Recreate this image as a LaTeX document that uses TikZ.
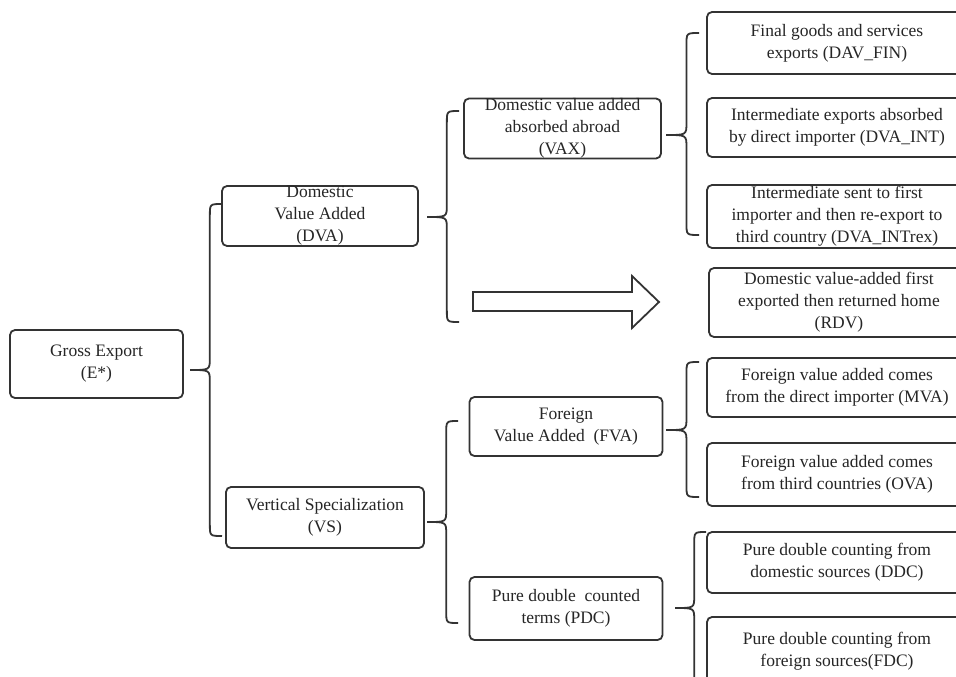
\documentclass[tikz,border=0pt]{standalone}
\usepackage{fontspec}
\setmainfont{Liberation Serif}
\usetikzlibrary{calc}

% graffa: punta, estremo alto, estremo basso
\newcommand{\parentesi}[3]{%
  \draw[graffa] let \p1=(#1), \p2=(#2), \p3=(#3), \p4=($(#1)!0.62!(#2)$) in
    (\p2) .. controls (\x4,\y2) .. (\x4,\y2-12pt)
    -- (\x4,\y1+12pt) .. controls (\x4,\y1) .. (\p1)
    .. controls (\x4,\y1) .. (\x4,\y1-12pt)
    -- (\x4,\y3+12pt) .. controls (\x4,\y3) .. (\p3);}

\begin{document}
\begin{tikzpicture}[x=1pt, y=-1pt]

% Stili dei blocchi
\tikzstyle{block} = [rectangle, draw=black!80, line width=1.8pt, rounded corners=5pt,
    align=center, inner sep=0pt, text=black!85, font=\fontsize{17.5}{22}\selectfont]
\tikzstyle{leaf} = [block, minimum width=260pt]
\tikzstyle{graffa} = [draw=black!80, line width=1.8pt]

\clip (0,0) rectangle (956,677);
\fill[white] (0,0) rectangle (956,677);

% Nodi
\node (gross) [block, minimum width=173pt, minimum height=68pt] at (96.5,364) {Gross Export\\(E*)};
\node (dva) [block, minimum width=196pt, minimum height=60pt] at (320,216) {Domestic\\Value Added\\(DVA)};
\node (vs) [block, minimum width=198pt, minimum height=61pt] at (325,517.5) {Vertical Specialization\\(VS)};
\node (vax) [block, minimum width=197pt, minimum height=60pt] at (562.5,128.5) {Domestic value added\\absorbed abroad\\(VAX)};
\node (fva) [block, minimum width=193pt, minimum height=59pt] at (566,426.5) {Foreign\\Value Added\ \ (FVA)};
\node (pdc) [block, minimum width=193pt, minimum height=63pt] at (566,608.5) {Pure double\ \ counted\\terms (PDC)};

\node (fin) [leaf, minimum height=62pt] at (837,43) {Final goods and services\\exports (DAV\_FIN)};
\node (int) [leaf, minimum height=59pt] at (837,127.5) {Intermediate exports absorbed\\by direct importer (DVA\_INT)};
\node (rex) [leaf, minimum height=63pt] at (837,216.5) {Intermediate sent to first\\importer and then re-export to\\third country (DVA\_INTrex)};
\node (rdv) [leaf, minimum height=69pt] at (839,302.5) {Domestic value-added first\\exported then returned home\\(RDV)};
\node (mva) [leaf, minimum height=59pt] at (837,387.5) {Foreign value added comes\\from the direct importer (MVA)};
\node (ova) [leaf, minimum height=63pt] at (837,474.5) {Foreign value added comes\\from third countries (OVA)};
\node (ddc) [leaf, minimum height=61pt] at (837,562.5) {Pure double counting from\\domestic sources (DDC)};
\node (fdc) [leaf, minimum height=68pt] at (837,651) {Pure double counting from\\foreign sources(FDC)};

% Punti delle graffe
\coordinate (g-tip) at (190,370);  \coordinate (g-top) at (222,204);  \coordinate (g-bot) at (222,536);
\coordinate (d-tip) at (427,217);  \coordinate (d-top) at (459,111);  \coordinate (d-bot) at (459,322);
\coordinate (x-tip) at (666,135);  \coordinate (x-top) at (699,33);   \coordinate (x-bot) at (699,235);
\coordinate (v-tip) at (427,522);  \coordinate (v-top) at (458,421);  \coordinate (v-bot) at (458,623);
\coordinate (f-tip) at (666,430);  \coordinate (f-top) at (699,362);  \coordinate (f-bot) at (699,497);
\coordinate (p-tip) at (675,608);  \coordinate (p-top) at (706,532);  \coordinate (p-bot) at (706,700);

% Graffe
\parentesi{g-tip}{g-top}{g-bot}
\parentesi{d-tip}{d-top}{d-bot}
\parentesi{x-tip}{x-top}{x-bot}
\parentesi{v-tip}{v-top}{v-bot}
\parentesi{f-tip}{f-top}{f-bot}
\parentesi{p-tip}{p-top}{p-bot}

% Freccia
\draw [graffa, line join=miter] (473,292) -- (632,292) -- (632,276) -- (659,302)
    -- (632,328) -- (632,311) -- (473,311) -- cycle;

\end{tikzpicture}
\end{document}
